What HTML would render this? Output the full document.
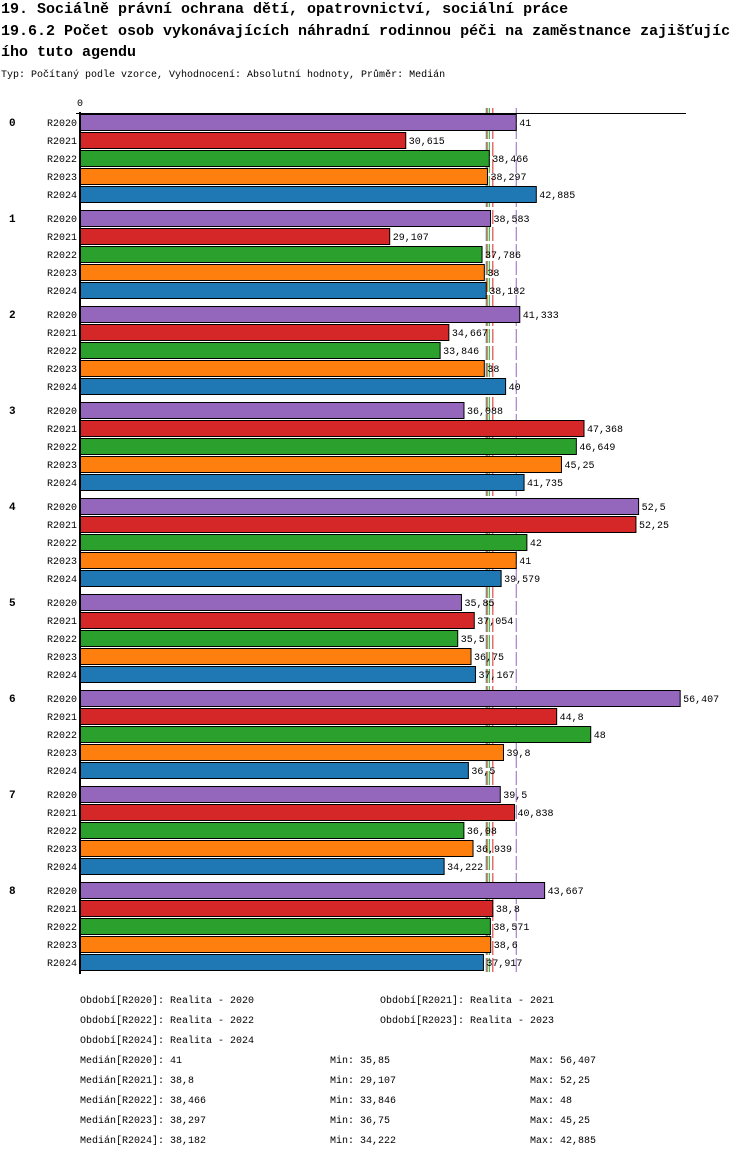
<!DOCTYPE html>
<html><head><meta charset="utf-8">
<style>
body{margin:0;background:#fff;}
svg text{font-family:"Liberation Mono","DejaVu Sans Mono",monospace;fill:#000;}
</style></head>
<body>
<svg id="c" width="750" height="1158" xmlns="http://www.w3.org/2000/svg">
<text x="1" y="13" font-size="15" font-weight="bold">19. Sociálně právní ochrana dětí, opatrovnictví, sociální práce</text>
<text x="1" y="35" font-size="15" font-weight="bold">19.6.2 Počet osob vykonávajících náhradní rodinnou péči na zaměstnance zajišťujíc</text>
<text x="1" y="56" font-size="15" font-weight="bold">ího tuto agendu</text>
<text x="1" y="77" font-size="10">Typ: Počítaný podle vzorce, Vyhodnocení: Absolutní hodnoty, Průměr: Medián</text>
<g id="plot"></g>
<g id="legend"></g>
</svg>
<script>
const groups=["0","1","2","3","4","5","6","7","8"];
const seriesNames=["R2020","R2021","R2022","R2023","R2024"];
const colors=["#9467bd","#d62728","#2ca02c","#ff7f0e","#1f77b4"];
const s2020=[41,38.583,41.333,36.088,52.5,35.85,56.407,39.5,43.667];
const s2021=[30.615,29.107,34.667,47.368,52.25,37.054,44.8,40.838,38.8];
const s2022=[38.466,37.786,33.846,46.649,42,35.5,48,36.08,38.571];
const s2023=[38.297,38,38,45.25,41,36.75,39.8,36.939,38.6];
const s2024=[42.885,38.182,40,41.735,39.579,37.167,36.5,34.222,37.917];
const medians=[41,38.8,38.466,38.297,38.182];
const mins=[35.85,29.107,33.846,36.75,34.222];
const maxs=[56.407,52.25,48,45.25,42.885];
const labels=["Realita - 2020","Realita - 2021","Realita - 2022","Realita - 2023","Realita - 2024"];
const series=[s2020,s2021,s2022,s2023,s2024];
const NS="http://www.w3.org/2000/svg";
const plot=document.getElementById('plot');
const x0=80,k=10.64,yTop=114;
const xs=v=>x0+v*k;
const ys=(g,s)=>yTop+g*96+s*18;
function fmt(v){return String(v).replace('.',',');}
function mk(tag,attrs,parent,txt){const e=document.createElementNS(NS,tag);for(const a in attrs)e.setAttribute(a,attrs[a]);if(txt!==undefined)e.textContent=txt;parent.appendChild(e);return e;}
let t=mk('text',{x:80,y:106,'font-size':10,'text-anchor':'middle'},plot,'0');


medians.forEach((m,i)=>{
  let ml=mk('line',{x1:xs(m),y1:108,x2:xs(m),y2:975,stroke:colors[i],'stroke-width':1,'stroke-dasharray':'14 3'},plot);
  
  
});
let ax=mk('line',{x1:76,y1:113.5,x2:686,y2:113.5,stroke:'#000','stroke-width':1},plot);


groups.forEach((g,gi)=>{
  let gl=mk('text',{x:9,y:ys(gi,0)+12,'font-size':11,'font-weight':'bold'},plot,g);
  
  
  series.forEach((s,si)=>{
    const y=ys(gi,si);
    let l=mk('text',{x:77,y:y+12,'font-size':10,'text-anchor':'end'},plot,seriesNames[si]);
    
    
    let r=mk('rect',{x:x0,y:y+0.5,width:xs(s[gi])-x0,height:16,fill:colors[si],stroke:'#000','stroke-width':1},plot);
    
    
    let v=mk('text',{x:xs(s[gi])+3,y:y+12,'font-size':10},plot,fmt(s[gi]));
    
    
  });
});
let ay=mk('line',{x1:x0,y1:yTop-2,x2:x0,y2:974,stroke:'#000','stroke-width':2},plot);


const leg=document.getElementById('legend');
const lp=[[80,1003],[380,1003],[80,1023],[380,1023],[80,1043]];
seriesNames.forEach((n,i)=>{
  let e=mk('text',{x:lp[i][0],y:lp[i][1],'font-size':10},leg,'Období['+n+']: '+labels[i]);
  
  
  const y=1063+i*20;
  let a=mk('text',{x:80,y:y,'font-size':10},leg,'Medián['+n+']: '+fmt(medians[i]));
  
  
  let b=mk('text',{x:330,y:y,'font-size':10},leg,'Min: '+fmt(mins[i]));
  
  
  let c=mk('text',{x:530,y:y,'font-size':10},leg,'Max: '+fmt(maxs[i]));
  
  
});
</script>
</body></html>
